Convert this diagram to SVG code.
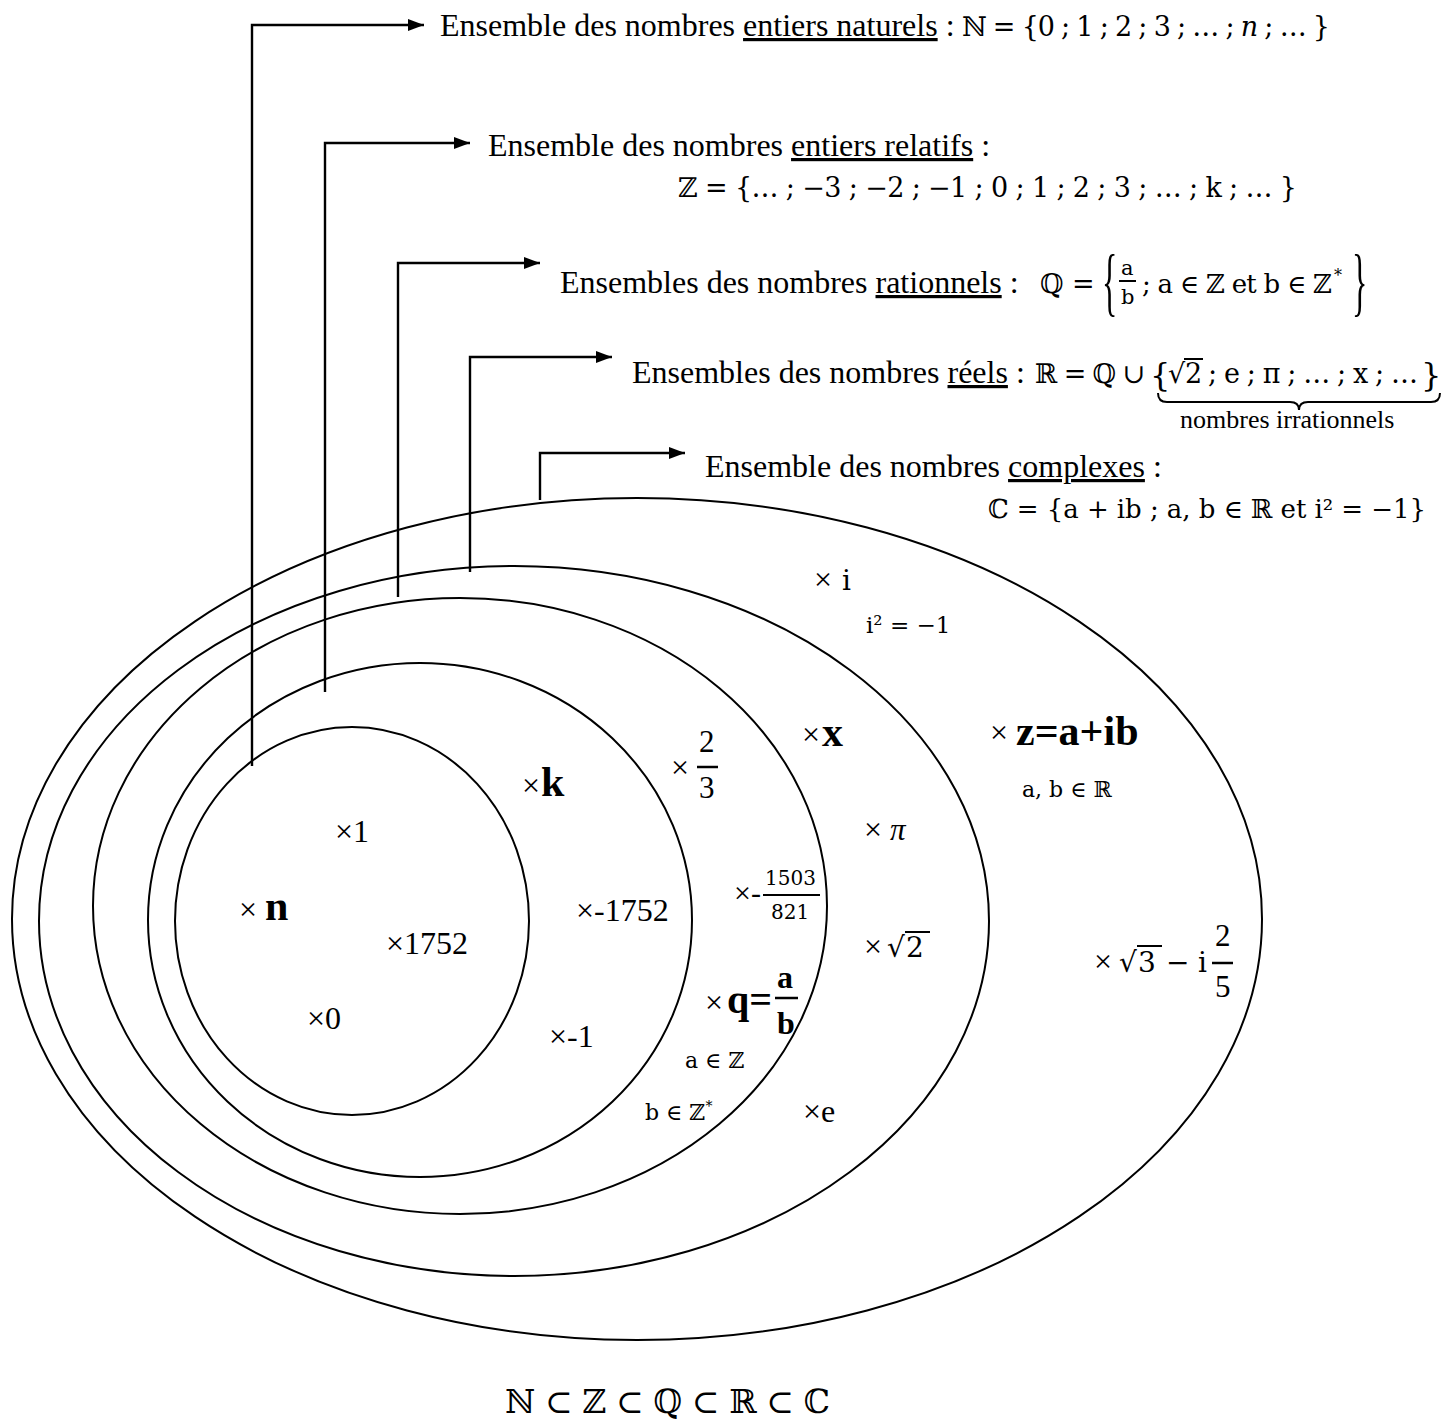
<svg xmlns="http://www.w3.org/2000/svg" width="1454" height="1419" viewBox="0 0 1454 1419" font-size="32">
<style>
.t{font-family:"Liberation Serif","Times New Roman",serif;fill:#000}
.m{font-family:"DejaVu Serif","DejaVu Sans",serif;fill:#000}
.b{font-family:"Liberation Serif","Times New Roman",serif;font-weight:bold;fill:#000}
.u{text-decoration:underline}
.e{fill:none;stroke:#000;stroke-width:2}
.c{fill:none;stroke:#000;stroke-width:2.4}
.bar{stroke:#000;stroke-width:2}
</style>
<defs>
<marker id="ah" markerUnits="userSpaceOnUse" markerWidth="16" markerHeight="12" refX="16" refY="6" orient="auto"><path d="M0,0 L16,6 L0,12 z" fill="#000"/></marker>
</defs>
<rect width="1454" height="1419" fill="#fff"/>

<g id="sets">
<ellipse id="set-C" class="e" cx="637" cy="919" rx="625" ry="421"/>
<ellipse id="set-R" class="e" cx="514" cy="921" rx="475" ry="355"/>
<ellipse id="set-Q" class="e" cx="460" cy="906" rx="367" ry="308"/>
<ellipse id="set-Z" class="e" cx="420" cy="920" rx="272" ry="257"/>
<ellipse id="set-N" class="e" cx="352" cy="921" rx="177" ry="194"/>
</g>

<g id="connectors">
<path class="c" d="M252,766 V25 H424" marker-end="url(#ah)"/>
<path class="c" d="M325,692 V143 H470" marker-end="url(#ah)"/>
<path class="c" d="M398,597 V263 H540" marker-end="url(#ah)"/>
<path class="c" d="M470,572 V357 H612" marker-end="url(#ah)"/>
<path class="c" d="M540,500 V453 H685" marker-end="url(#ah)"/>
</g>

<g id="def-N">
<text class="t" x="440" y="36">Ensemble des nombres <tspan class="u">entiers naturels</tspan> :</text>
<text class="m" x="962" y="36" font-size="27" textLength="368" lengthAdjust="spacing">ℕ = {0 ; 1 ; 2 ; 3 ; … ; <tspan font-style="italic">n</tspan> ; … }</text>
</g>

<g id="def-Z">
<text class="t" x="488" y="156">Ensemble des nombres <tspan class="u">entiers relatifs</tspan> :</text>
<text class="m" x="678" y="197" font-size="27" textLength="619" lengthAdjust="spacing">ℤ = {… ; −3 ; −2 ; −1 ; 0 ; 1 ; 2 ; 3 ; … ; k ; … }</text>
</g>

<g id="def-Q">
<text class="t" x="560" y="293">Ensembles des nombres <tspan class="u">rationnels</tspan> :</text>
<text class="m" x="1040" y="293" font-size="27">ℚ  =</text>
<text class="t" font-size="76" transform="translate(1102,307) scale(0.42,1)">{</text>
<text class="m" x="1121" y="275" font-size="21">a</text>
<line class="bar" x1="1119" y1="281" x2="1136" y2="281"/>
<text class="m" x="1121" y="304" font-size="21">b</text>
<text class="m" x="1142" y="293" font-size="26" textLength="190" lengthAdjust="spacing">; a ∈ ℤ et b ∈ ℤ</text>
<text class="m" x="1334" y="281" font-size="16">*</text>
<text class="t" font-size="76" transform="translate(1352,307) scale(0.42,1)">}</text>
</g>

<g id="def-R">
<text class="t" x="632" y="383">Ensembles des nombres <tspan class="u">réels</tspan> :</text>
<text class="m" x="1035" y="383" font-size="27" textLength="110" lengthAdjust="spacing">ℝ = ℚ ∪</text>
<text class="m" x="1150" y="386" font-size="32">{</text>
<text class="m" x="1168" y="383" font-size="27">√</text>
<text class="m" x="1185" y="383" font-size="27">2</text>
<line class="bar" x1="1184" y1="359" x2="1203" y2="359"/>
<text class="m" x="1208" y="383" font-size="27" textLength="210" lengthAdjust="spacing">; e ; π ; … ; x ; …</text>
<text class="m" x="1421" y="386" font-size="32">}</text>
<path class="bar" fill="none" d="M1158,393 Q1158,402 1167,402 L1290,402 Q1299,402 1299,410 Q1299,402 1308,402 L1431,402 Q1440,402 1440,393"/>
<text class="t" x="1180" y="428" font-size="26">nombres irrationnels</text>
</g>

<g id="def-C">
<text class="t" x="705" y="477">Ensemble des nombres <tspan class="u">complexes</tspan> :</text>
<text class="m" x="988" y="518" font-size="26" textLength="438" lengthAdjust="spacing">ℂ = {a + ib ; a, b ∈ ℝ et i² = −1}</text>
</g>

<g id="elements-N">
<text class="t" x="335" y="842">×1</text>
<text class="t" x="239" y="920">×</text>
<text class="b" x="265" y="920" font-size="42">n</text>
<text class="t" x="386" y="954">×1752</text>
<text class="t" x="307" y="1029">×0</text>
</g>

<g id="elements-Z">
<text class="t" x="522" y="796">×</text>
<text class="b" x="541" y="796" font-size="42">k</text>
<text class="t" x="576" y="921">×-1752</text>
<text class="t" x="549" y="1047">×-1</text>
</g>

<g id="elements-Q">
<text class="t" x="671" y="778">×</text>
<text class="t" x="699" y="752" font-size="31">2</text>
<line x1="697" y1="767" x2="718" y2="767" stroke="#000" stroke-width="2.5"/>
<text class="t" x="699" y="798" font-size="31">3</text>
<text class="t" x="734" y="903" font-size="30">×-</text>
<text class="m" x="765" y="885" font-size="20">1503</text>
<line class="bar" x1="763" y1="895" x2="820" y2="895"/>
<text class="m" x="771" y="919" font-size="20">821</text>
<text class="t" x="705" y="1013">×</text>
<text class="b" x="727" y="1013" font-size="40">q=</text>
<text class="b" x="777" y="988">a</text>
<line x1="775" y1="998" x2="798" y2="998" stroke="#000" stroke-width="2.5"/>
<text class="b" x="777" y="1034">b</text>
<text class="m" x="685" y="1068" font-size="22">a ∈ ℤ</text>
<text class="m" x="645" y="1120" font-size="22">b ∈ ℤ<tspan font-size="14" dy="-9">*</tspan></text>
</g>

<g id="elements-R">
<text class="t" x="802" y="745">×</text>
<text class="b" x="822" y="746" font-size="42">x</text>
<text class="t" x="864" y="840">×</text>
<text class="t" x="890" y="840" font-size="31" font-style="italic">π</text>
<text class="t" x="864" y="957">×</text>
<text class="m" x="887" y="957" font-size="28">√</text>
<text class="m" x="906" y="957" font-size="28">2</text>
<line class="bar" x1="905" y1="932" x2="930" y2="932"/>
<text class="t" x="803" y="1122">×e</text>
</g>

<g id="elements-C">
<text class="t" x="814" y="590">×</text>
<text class="m" x="842" y="590" font-size="28">i</text>
<text class="m" x="866" y="633" font-size="23">i² = −1</text>
<text class="t" x="990" y="743">×</text>
<text class="b" x="1016" y="745" font-size="42">z=a+ib</text>
<text class="m" x="1022" y="797" font-size="22">a, b ∈ ℝ</text>
<text class="t" x="1094" y="972">×</text>
<text class="m" x="1119" y="972" font-size="28">√</text>
<text class="m" x="1138" y="972" font-size="28">3</text>
<line class="bar" x1="1137" y1="946" x2="1162" y2="946"/>
<text class="m" x="1166" y="972" font-size="28">−</text>
<text class="m" x="1198" y="972" font-size="28">i</text>
<text class="t" x="1215" y="946" font-size="31">2</text>
<line x1="1212" y1="963" x2="1233" y2="963" stroke="#000" stroke-width="2.5"/>
<text class="t" x="1215" y="997" font-size="31">5</text>
</g>

<g id="inclusion">
<text class="m" x="505" y="1413" font-size="33" textLength="325" lengthAdjust="spacing">ℕ ⊂ ℤ ⊂ ℚ ⊂ ℝ ⊂ ℂ</text>
</g>
</svg>
